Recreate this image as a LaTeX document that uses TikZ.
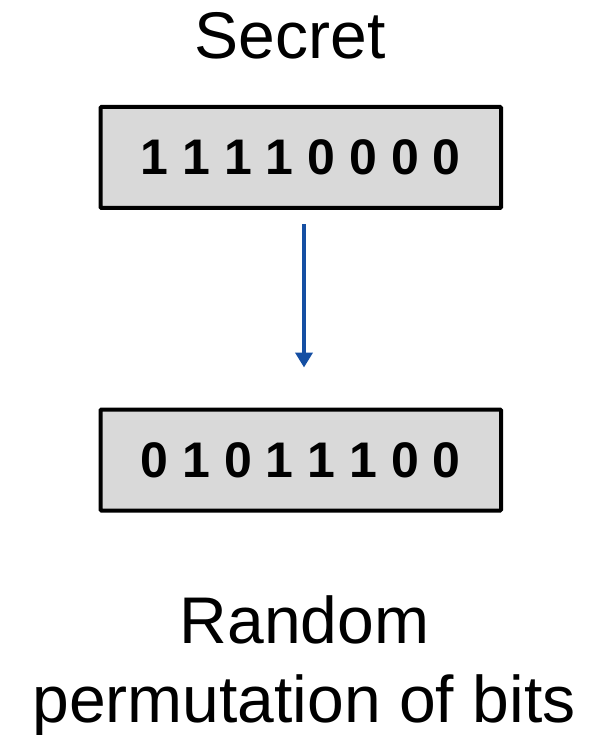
\documentclass[tikz,border=0pt]{standalone}
\usepackage{fontspec}
\setmainfont{Liberation Sans}
\usetikzlibrary{arrows.meta}
\definecolor{arrowblue}{RGB}{21,79,163}
\definecolor{boxgray}{RGB}{217,217,217}
\tikzset{
  bitbox/.style={draw=black, fill=boxgray, line width=4pt, rounded corners=1pt,
    minimum width=400.5pt, minimum height=101pt, inner sep=0pt,
    font=\fontsize{50}{60}\selectfont\bfseries},
  caption/.style={font=\fontsize{66}{79}\selectfont, inner sep=0pt, anchor=base},
  flow/.style={draw=arrowblue, line width=4pt, -{Triangle[length=15pt,width=17pt]}}
}
\begin{document}
\begin{tikzpicture}[x=1pt,y=1pt]
  \useasboundingbox (0,0) rectangle (600,-735);
  % title above the input bits
  \node[caption] (title) at (290,-59) {Secret};
  % input and permuted bit strings
  \node[bitbox] (input) at (300.75,-157.5) {1 1 1 1 0 0 0 0};
  \node[bitbox] (output) at (300.75,-460) {0 1 0 1 1 1 0 0};
  % mapping arrow
  \draw[flow, shorten <=14pt, shorten >=40pt]
    ([xshift=3.25pt]input.south) -- ([xshift=3.25pt]output.north);
  % caption below, two lines
  \node[caption] (note1) at (304.5,-643) {Random};
  \node[caption] (note2) at (304,-722) {permutation of bits};
\end{tikzpicture}
\end{document}
